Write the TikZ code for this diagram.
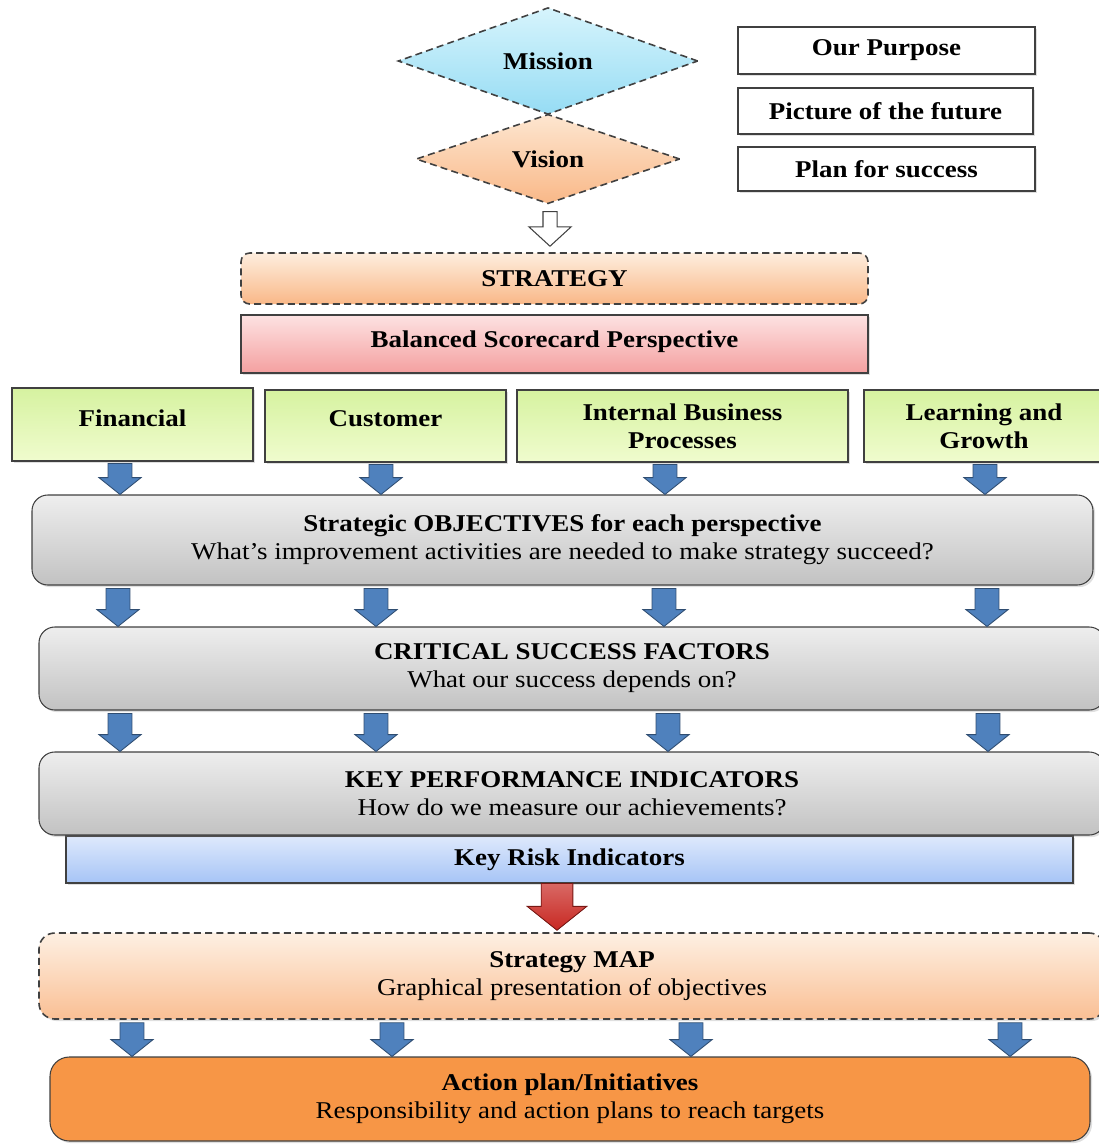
\documentclass[tikz,border=0pt]{standalone}
\usepackage{fontspec}
\setmainfont{Liberation Serif}[FakeStretch=1.12]
\usepackage{xcolor}
\usepackage{tikz}
\usetikzlibrary{shapes.geometric,calc,shadows}
\definecolor{misTop}{RGB}{214,244,252}
\definecolor{misBot}{RGB}{150,220,244}
\definecolor{visTop}{RGB}{253,230,208}
\definecolor{visBot}{RGB}{249,184,136}
\definecolor{redTop}{RGB}{253,226,226}
\definecolor{redBot}{RGB}{244,160,160}
\definecolor{grnTop}{RGB}{214,242,160}
\definecolor{grnBot}{RGB}{240,252,206}
\definecolor{greyTop}{RGB}{238,238,238}
\definecolor{greyBot}{RGB}{194,194,194}
\definecolor{kriTop}{RGB}{222,233,252}
\definecolor{kriBot}{RGB}{166,196,246}
\definecolor{actfill}{RGB}{247,150,70}
\definecolor{arrblue}{RGB}{79,129,189}
\definecolor{arrred}{RGB}{200,40,34}
\newcommand{\diagfont}{\fontsize{13.7}{16}\selectfont}
% block arrow: style, x, upper point, lower point, half shaft, half head, head length
\newcommand{\blockarr}[7]{%
  \filldraw[#1] let \p0=(#2,0), \p1=(#3), \p2=(#4) in
    (\x0-#5,\y1) -- (\x0+#5,\y1) -- (\x0+#5,\y2+#7) -- (\x0+#6,\y2+#7)
    -- (\x0,\y2) -- (\x0-#6,\y2+#7) -- (\x0-#5,\y2+#7) -- cycle;}

\begin{document}
\begin{tikzpicture}[x=0.02cm,y=-0.02cm,
  wh/.style 2 args={minimum width=#1*0.02cm, minimum height=#2*0.02cm},
  shadowed/.style={drop shadow={opacity=0.25,shadow xshift=1.2pt,shadow yshift=-1.2pt}},
  base/.style={draw=black!75, line width=0.6pt, inner sep=0pt, align=center, font=\diagfont\bfseries},
  dash box/.style={dash pattern=on 4pt off 2.4pt, line width=0.9pt},
  gem/.style={base, diamond, dash box},
  plainbox/.style={base, rectangle, fill=white, shadowed},
  persp/.style={base, rectangle, top color=grnTop, bottom color=grnBot, shadowed},
  layer/.style={base, rectangle, rounded corners=9pt, top color=greyTop, bottom color=greyBot, shadowed, font=\diagfont\mdseries},
  bluearr/.style={fill=arrblue, draw=arrblue!60!black, line width=0.5pt}]
  \useasboundingbox (0,0) rectangle (1099,1144);
  % mission and vision
  \node[gem, wh={300}{102}, top color=misTop, bottom color=misBot] (mis) at (548,61) {Mission};
  \node[gem, wh={264}{82}, top color=visTop, bottom color=visBot] (vis) at (548,159) {Vision};
  \node[plainbox, wh={297}{47}] (pur) at (886.5,50.5) {Our Purpose};
  \node[plainbox, wh={295}{46}] (fut) at (885.5,111) {Picture of the future};
  \node[plainbox, wh={297}{44}] (suc) at (886.5,169) {Plan for success};
  % strategy
  \node[base, rectangle, rounded corners=5pt, dash box, wh={627}{51}, top color=visTop!70, bottom color=visBot] (str) at (554.5,278.5) {STRATEGY};
  \node[base, rectangle, wh={627}{58}, top color=redTop, bottom color=redBot, shadowed] (bsc) at (554.5,344) {\raisebox{5.6pt}{Balanced Scorecard Perspective}};
  % perspectives
  \node[persp, wh={241}{73}] (fin) at (132.5,424.5) {\raisebox{7.4pt}{Financial}};
  \node[persp, wh={241}{72}] (cus) at (385.5,426) {\raisebox{8pt}{Customer}};
  \node[persp, wh={331}{72}] (ibp) at (682.5,426) {Internal Business\\Processes};
  \node[persp, wh={240}{72}] (lag) at (984,426) {Learning and\\Growth};
  % layers
  \node[layer, wh={1061}{90}] (obj) at (562.5,540) {\textbf{Strategic OBJECTIVES for each perspective}\\What's improvement activities are needed to make strategy succeed?};
  \node[layer, wh={1066}{83}] (csf) at (572,668.5) {\textbf{CRITICAL SUCCESS FACTORS}\\What our success depends on?};
  \node[base, rectangle, wh={1007}{47}, top color=kriTop, bottom color=kriBot, shadowed] (kri) at (569.5,859.5) {Key Risk Indicators};
  \node[layer, wh={1066}{83}] (kpi) at (572,793.5) {\textbf{KEY PERFORMANCE INDICATORS}\\How do we measure our achievements?};
  \node[layer, dash box, wh={1066}{86}, top color=visTop!60, bottom color=visBot!90] (map) at (572,976) {\textbf{Strategy MAP}\\Graphical presentation of objectives};
  \node[layer, wh={1040}{84}, rounded corners=11pt, top color=actfill, bottom color=actfill] (act) at (570,1099) {\textbf{Action plan/Initiatives}\\Responsibility and action plans to reach targets};
  % arrows
  \blockarr{fill=white, draw=black!75, line width=0.6pt}{550}{$(vis.south)+(0,7)$}{$(str.north)+(0,-6)$}{4pt}{12pt}{11pt}
  \foreach \ax/\up in {120/fin,381/cus,665/ibp,985/lag}
    \blockarr{bluearr}{\ax}{$(\up.south)+(0,2)$}{obj.north}{6.8pt}{12pt}{9.6pt};
  \foreach \ax in {118,376,664,987}
    \blockarr{bluearr}{\ax}{$(obj.south)+(0,3)$}{csf.north}{6.8pt}{12pt}{9.6pt};
  \foreach \ax in {120,376,668,988}
    \blockarr{bluearr}{\ax}{$(csf.south)+(0,3)$}{kpi.north}{6.8pt}{12pt}{9.6pt};
  \blockarr{shade, top color=arrred!70, bottom color=arrred, draw=arrred!60!black, line width=0.5pt}{557}{kri.south}{$(map.north)+(0,-2)$}{9pt}{17pt}{13.6pt}
  \foreach \ax in {132,392,691,1010}
    \blockarr{bluearr}{\ax}{$(map.south)+(0,3)$}{act.north}{6.8pt}{12pt}{9.6pt};
\end{tikzpicture}
\end{document}
